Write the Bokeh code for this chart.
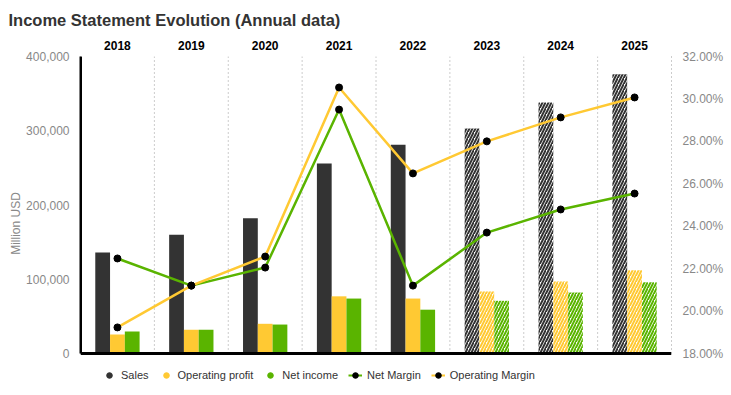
from bokeh.plotting import figure
from bokeh.models import (ColumnDataSource, FactorRange, Range1d, LinearAxis, CategoricalAxis,
                          Legend, LegendItem, NumeralTickFormatter, FixedTicker,
                          CustomJSTickFormatter)
from bokeh.transform import dodge
from bokeh.embed import file_html
from bokeh.resources import INLINE

years = ["2018", "2019", "2020", "2021", "2022", "2023", "2024", "2025"]
sales = [136000, 160000, 182000, 256000, 281000, 303000, 338000, 376000]
operating_profit = [25600, 32000, 40000, 77000, 74000, 83500, 97000, 112000]
net_income = [29600, 32000, 39000, 74000, 59000, 71000, 82000, 96000]
net_margin = [22.48, 21.2, 22.05, 29.5, 21.2, 23.7, 24.79, 25.54]
operating_margin = [19.23, 21.2, 22.57, 30.54, 26.49, 28.0, 29.13, 30.07]
n_actual = 5  # 2018-2022 reported, 2023-2025 estimates

C_SALES = "#333333"
C_OP = "#ffc933"
C_NET = "#5ab400"
FONT = "Liberation Sans"

# layout (pixels): value area is 297 px tall, the frame continues 37 px below it for the legend
AREA_H = 297
BELOW = 37
Y_MAX = 400000
P_MIN, P_MAX = 18, 32
y_low = -BELOW * Y_MAX / AREA_H
p_low = P_MIN - BELOW * (P_MAX - P_MIN) / AREA_H
n = len(years)

p = figure(x_range=FactorRange(*years), y_range=Range1d(y_low, Y_MAX),
           width=726, height=390, output_backend="svg", toolbar_location=None,
           min_border_left=80, min_border_top=56, min_border_right=51, min_border_bottom=0,
           x_axis_location=None, y_axis_location=None)
p.outline_line_color = None
p.xgrid.visible = False
p.ygrid.visible = False
p.background_fill_color = "white"
p.border_fill_color = "white"
p.extra_y_ranges = {"pct": Range1d(p_low, P_MAX)}

p.title.text = "Income Statement Evolution (Annual data)"
p.title.align = "left"
p.title.offset = -72
p.title.standoff = 17
p.title.text_font = FONT
p.title.text_font_size = "16.5px"
p.title.text_font_style = "bold"
p.title.text_color = "#333333"

act = ColumnDataSource(dict(x=years[:n_actual], sales=sales[:n_actual],
                            op=operating_profit[:n_actual], net=net_income[:n_actual]))
est = ColumnDataSource(dict(x=years[n_actual:], sales=sales[n_actual:],
                            op=operating_profit[n_actual:], net=net_income[n_actual:]))
W = 0.2
for col, color, off in (("sales", C_SALES, -0.2), ("op", C_OP, 0.0), ("net", C_NET, 0.2)):
    p.vbar(x=dodge("x", off, range=p.x_range), top=col, width=W, source=act,
           fill_color=color, line_color=None)
    p.vbar(x=dodge("x", off, range=p.x_range), top=col, width=W, source=est,
           fill_color="white", line_color=None, hatch_pattern="right_diagonal_line",
           hatch_color=color, hatch_weight=2, hatch_scale=6)

# dotted category separators (between categories)
sep = list(range(1, n))
p.segment(x0=sep, y0=[0] * len(sep), x1=sep, y1=[Y_MAX] * len(sep),
          line_color="#999999", line_width=1, line_dash="1 3")
# solid axis lines (left value axis and base line)
p.segment(x0=[0, 0], y0=[0, 0], x1=[0, n], y1=[Y_MAX, 0], line_color="black", line_width=3)

ms = ColumnDataSource(dict(x=years, nm=net_margin, om=operating_margin))
p.line(x="x", y="nm", source=ms, y_range_name="pct", line_color=C_NET, line_width=2.5)
p.scatter(x="x", y="nm", source=ms, y_range_name="pct", size=7, fill_color="black", line_color="black")
p.line(x="x", y="om", source=ms, y_range_name="pct", line_color=C_OP, line_width=2.5)
p.scatter(x="x", y="om", source=ms, y_range_name="pct", size=7, fill_color="black", line_color="black")

# axes
ya = LinearAxis(axis_label="Million USD", ticker=FixedTicker(ticks=[0, 100000, 200000, 300000, 400000]),
                formatter=NumeralTickFormatter(format="0,0"), bounds=(0, Y_MAX))
ya.axis_line_width = 2
ya.axis_line_color = "black"
ya.major_tick_line_color = None
ya.minor_tick_line_color = None
ya.major_label_text_color = "#888888"
ya.major_label_text_font = FONT
ya.major_label_text_font_size = "12px"
ya.major_label_standoff = 5
ya.axis_label_text_font = FONT
ya.axis_label_text_font_size = "12px"
ya.axis_label_text_font_style = "normal"
ya.axis_label_text_color = "#888888"
ya.axis_label_standoff = 0
p.add_layout(ya, "left")

ra = LinearAxis(y_range_name="pct", ticker=FixedTicker(ticks=[18, 20, 22, 24, 26, 28, 30, 32]),
                formatter=CustomJSTickFormatter(code="return tick.toFixed(2) + '%';"),
                bounds=(P_MIN, P_MAX))
ra.axis_line_color = "#999999"
ra.axis_line_dash = "1 3"
ra.axis_line_width = 1
ra.major_tick_line_color = None
ra.minor_tick_line_color = None
ra.major_label_text_color = "#888888"
ra.major_label_text_font = FONT
ra.major_label_text_font_size = "12px"
ra.major_label_standoff = 5
p.add_layout(ra, "right")

xa = CategoricalAxis()
xa.axis_line_color = None
xa.major_tick_line_color = None
xa.minor_tick_line_color = None
xa.major_label_text_font = FONT
xa.major_label_text_font_size = "12px"
xa.major_label_text_font_style = "bold"
xa.major_label_text_color = "black"
xa.major_label_standoff = 1
p.add_layout(xa, "above")

# legend: one hidden point each (NaN value) so the legend can draw its markers
hid = ColumnDataSource(dict(x=[years[0]], y=[float("nan")]))
ls = p.scatter(x="x", y="y", source=hid, size=8, fill_color=C_SALES, line_color=C_SALES)
lo = p.scatter(x="x", y="y", source=hid, size=8, fill_color=C_OP, line_color=C_OP)
ln = p.scatter(x="x", y="y", source=hid, size=8, fill_color=C_NET, line_color=C_NET)
ll1 = p.line(x="x", y="y", source=hid, line_color=C_NET, line_width=2)
ld1 = p.scatter(x="x", y="y", source=hid, size=6, fill_color="black", line_color="black")
ll2 = p.line(x="x", y="y", source=hid, line_color=C_OP, line_width=2)
ld2 = p.scatter(x="x", y="y", source=hid, size=6, fill_color="black", line_color="black")
legend = Legend(items=[LegendItem(label="Sales", renderers=[ls]),
                       LegendItem(label="Operating profit", renderers=[lo]),
                       LegendItem(label="Net income", renderers=[ln]),
                       LegendItem(label="Net Margin", renderers=[ll1, ld1]),
                       LegendItem(label="Operating Margin", renderers=[ll2, ld2])],
                orientation="horizontal", location=(22, 8),
                label_text_font=FONT, label_text_font_size="11px", label_text_color="#333333",
                glyph_width=14, glyph_height=14, label_standoff=5, spacing=10,
                padding=0, margin=0, border_line_color=None, background_fill_alpha=0)
p.add_layout(legend, "center")

open("out.html", "w").write(file_html(p, INLINE))
